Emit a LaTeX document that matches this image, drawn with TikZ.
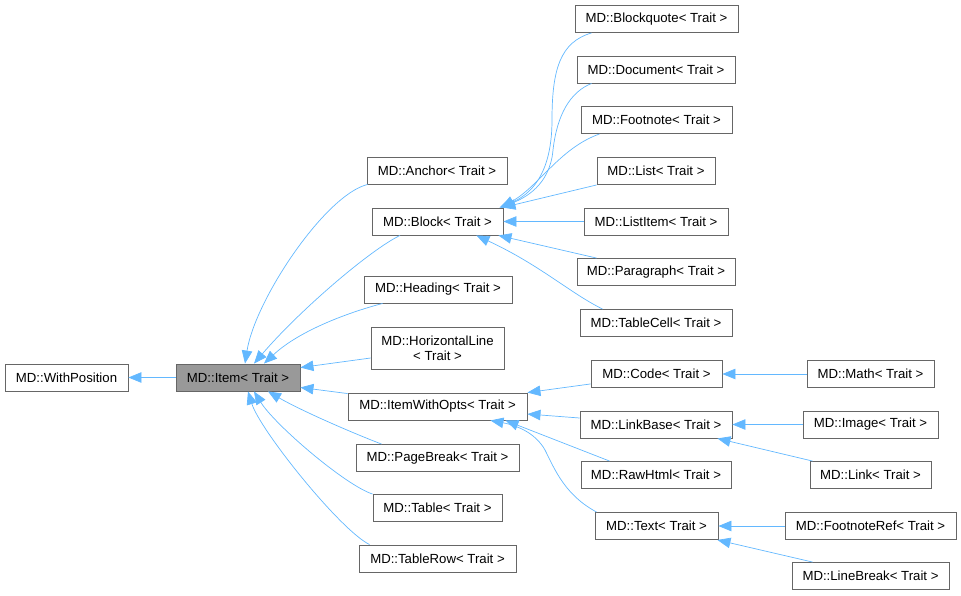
\documentclass[tikz,border=0pt]{standalone}
\usepackage{fontspec}
\setmainfont{Liberation Sans}
\usetikzlibrary{arrows.meta,calc}
\definecolor{edgeblue}{HTML}{63B8FF}
\definecolor{boxgray}{HTML}{666666}
\definecolor{itemfill}{HTML}{999999}
\begin{document}
\begin{tikzpicture}[x=1pt,y=-1pt,
  cls/.style={draw=boxgray, line width=0.9pt, fill=white, inner sep=0pt,
    minimum height=27pt, font=\fontsize{13.2}{15}\selectfont, text=black},
  edge/.style={draw=edgeblue, line width=0.7pt,
    -{Triangle[length=13pt,width=10.5pt,fill=edgeblue]}}]
\useasboundingbox (0,0) rectangle (961,595);
% left column
\node[cls, minimum width=123pt] (wp) at (66.5,377.5) {MD::WithPosition};
\node[cls, minimum width=124pt, fill=itemfill] (item) at (238,377.5) {MD::Item< Trait >};
% middle column
\node[cls, minimum width=140pt] (anchor) at (437,170.5) {MD::Anchor< Trait >};
\node[cls, minimum width=131pt] (block) at (437.5,221.5) {MD::Block< Trait >};
\node[cls, minimum width=148pt] (heading) at (438,289.5) {MD::Heading< Trait >};
\node[cls, minimum width=133pt, minimum height=42pt, align=center] (hl) at (437.5,348) {MD::HorizontalLine\\< Trait >};
\node[cls, minimum width=179pt] (iwo) at (437.5,406.5) {MD::ItemWithOpts< Trait >};
\node[cls, minimum width=163pt] (pb) at (437.5,458) {MD::PageBreak< Trait >};
\node[cls, minimum width=129pt] (table) at (437.5,508) {MD::Table< Trait >};
\node[cls, minimum width=157pt] (tr) at (437.5,558.5) {MD::TableRow< Trait >};
% right column
\node[cls, minimum width=163pt] (bq) at (656.5,19) {MD::Blockquote< Trait >};
\node[cls, minimum width=158pt] (doc) at (656,69.5) {MD::Document< Trait >};
\node[cls, minimum width=151pt] (fn) at (656.5,120) {MD::Footnote< Trait >};
\node[cls, minimum width=118pt] (list) at (656,171) {MD::List< Trait >};
\node[cls, minimum width=144pt] (li) at (656,221.5) {MD::ListItem< Trait >};
\node[cls, minimum width=158pt] (para) at (656,272) {MD::Paragraph< Trait >};
\node[cls, minimum width=152pt] (tc) at (656,323) {MD::TableCell< Trait >};
\node[cls, minimum width=131pt] (code) at (656.5,374) {MD::Code< Trait >};
\node[cls, minimum width=152pt] (lb) at (656,424.5) {MD::LinkBase< Trait >};
\node[cls, minimum width=150pt] (rh) at (656,475) {MD::RawHtml< Trait >};
\node[cls, minimum width=123pt] (text) at (656.5,526) {MD::Text< Trait >};
% far right column
\node[cls, minimum width=127pt] (math) at (870.5,374) {MD::Math< Trait >};
\node[cls, minimum width=135pt] (image) at (870.5,424.5) {MD::Image< Trait >};
\node[cls, minimum width=121pt] (link) at (870.5,475) {MD::Link< Trait >};
\node[cls, minimum width=171pt] (fr) at (870.5,526) {MD::FootnoteRef< Trait >};
\node[cls, minimum width=157pt] (lbr) at (870.5,576) {MD::LineBreak< Trait >};
% edges to WithPosition and Item
\draw[edge] (item.west) -- (wp.east);
\draw[edge] ($(anchor.south west)+(1,0)$) .. controls (325,195) and (255,300) .. ($(item.north)+(7,0)$);
\draw[edge] ($(block.south)+(-37.5,0)$) .. controls (370,250) and (300,310) .. ($(item.north)+(16,0)$);
\draw[edge] ($(heading.south west)+(19,0)$) .. controls (350,312) and (300,330) .. ($(item.north)+(26,0)$);
\draw[edge] ($(hl.west)+(0,10)$) -- ($(item.north east)+(0,4)$);
\draw[edge] ($(iwo.north west)+(0,1)$) -- ($(item.south east)+(0,-4)$);
\draw[edge] ($(pb.north west)+(26,0)$) .. controls (350,432) and (300,410) .. ($(item.south)+(30,0)$);
\draw[edge] (table.north west) .. controls (345,485) and (275,425) .. ($(item.south)+(16,0)$);
\draw[edge] ($(tr.north west)+(11,0)$) .. controls (340,530) and (260,430) .. ($(item.south)+(10,0)$);
% edges to Block
\draw[edge] ($(bq.south west)+(17,0)$) .. controls (560,42) and (552,70) .. (552,120) .. controls (552,175) and (530,195) .. ($(block.north east)+(-4,0)$);
\draw[edge] ($(doc.south west)+(15,0)$) .. controls (570,92) and (557,115) .. (553,150) .. controls (550,185) and (525,198) .. ($(block.north east)+(-3,0)$);
\draw[edge] ($(fn.south west)+(19,0)$) .. controls (560,148) and (540,185) .. ($(block.north east)+(-2,0)$);
\draw[edge] (list.south west) -- ($(block.north east)+(-1,0)$);
\draw[edge] (li.west) -- (block.east);
\draw[edge] ($(para.north west)+(20,0)$) -- ($(block.south east)+(-5,0)$);
\draw[edge] ($(tc.north west)+(23,0)$) .. controls (570,293) and (540,265) .. ($(block.south east)+(-27,0)$);
% edges to ItemWithOpts
\draw[edge] ($(code.south west)+(0,-4)$) -- (iwo.north east);
\draw[edge] ($(lb.west)+(0,-6.5)$) -- ($(iwo.east)+(0,7.5)$);
\draw[edge] ($(rh.north west)+(29,0)$) -- ($(iwo.south east)+(-22,0)$);
\draw[edge] ($(text.north west)+(2,0)$) .. controls (565,495) and (555,470) .. (545,450) .. controls (535,432) and (515,425) .. ($(iwo.south east)+(-37,0)$);
% edges to Code, LinkBase, Text
\draw[edge] (math.west) -- (code.east);
\draw[edge] (image.west) -- (lb.east);
\draw[edge] ($(link.north west)+(3,0)$) -- ($(lb.south east)+(-15,0)$);
\draw[edge] (fr.west) -- (text.east);
\draw[edge] ($(lbr.north west)+(21,0)$) -- ($(text.south east)+(-1,0)$);
\end{tikzpicture}
\end{document}
